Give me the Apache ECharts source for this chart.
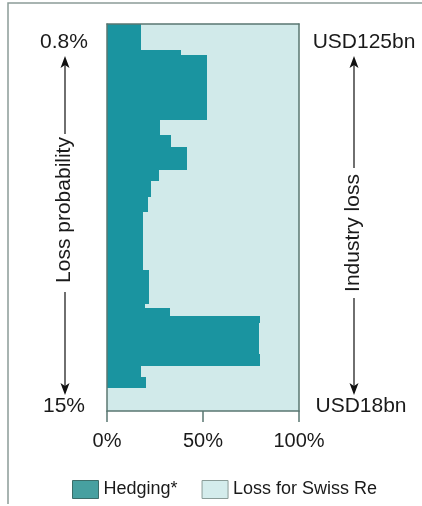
<!DOCTYPE html>
<html>
<head>
<meta charset="utf-8">
<script src="https://cdn.jsdelivr.net/npm/echarts@6/dist/echarts.min.js"></script>
<style>
  html, body { margin: 0; padding: 0; background: #fff; }
  #drew { width: 422px; height: 506px; }
</style>
</head>
<body>
<div id="drew"></div>
<script>
   // band edges along the loss range, 0 = top (0.8% / USD125bn), 100 = bottom (15% / USD18bn)
   var bandEdges = [0, 6.8, 7.9, 24.7, 28.6, 31.7, 37.7, 40.5, 44.6, 48.5, 63.5,
                    72.3, 73.4, 75.4, 77.2, 85.3, 88.4, 91.2, 94.1, 100];
   // hedging share (%) in each band
   var hedging = [17.7, 38.5, 52.1, 27.6, 33.3, 41.7, 27.1, 22.9, 21.4, 18.7,
                  21.9, 19.8, 32.8, 79.7, 79.2, 79.7, 17.7, 20.3, 0];
   var xTicks = [0, 50, 100];
   var seriesNames = ['Hedging*', 'Loss for Swiss Re'];

   var hedgeData = [], lossData = [];
   for (var i = 0; i < hedging.length; i++) {
       hedgeData.push([bandEdges[i], bandEdges[i + 1], 0, hedging[i]]);
       lossData.push([bandEdges[i], bandEdges[i + 1], hedging[i], 100]);
   }

   function renderBand(params, api) {
       var p0 = api.coord([api.value(2), api.value(0)]);
       var p1 = api.coord([api.value(3), api.value(1)]);
       var x0 = Math.round(p0[0]), y0 = Math.round(p0[1]);
       var x1 = Math.round(p1[0]), y1 = Math.round(p1[1]);
       return {
           type: 'rect',
           shape: { x: x0, y: y0, width: x1 - x0, height: y1 - y0 },
           style: api.style({ stroke: null, lineWidth: 0 })
       };
   }

   var font = 'Liberation Sans, Arial, sans-serif';
   var lineCol = '#5a7771';

   var myChart = echarts.init(document.getElementById('drew'));
   var option = {
       backgroundColor: '#fff',
       animation: false,
       textStyle: { fontFamily: font },
       grid: { left: 107, right: 123, top: 24, height: 387 },
       xAxis: [{
           type: 'value', position: 'bottom', min: 0, max: 100, interval: 50, z: 5,
           axisLine: { show: true, onZero: false, lineStyle: { color: lineCol, width: 1.5 } },
           axisTick: { show: true, length: 11, lineStyle: { color: lineCol, width: 1.5 } },
           axisLabel: {
               margin: 20, fontSize: 20, color: '#1a1a1a',
               formatter: function (v) { return xTicks.indexOf(v) >= 0 ? v + '%' : ''; }
           },
           splitLine: { show: false }
       }, {
           type: 'value', position: 'top', min: 0, max: 100, z: 5,
           axisLine: { show: true, onZero: false, lineStyle: { color: lineCol, width: 1.5 } },
           axisTick: { show: false }, axisLabel: { show: false }, splitLine: { show: false }
       }],
       yAxis: [{
           type: 'value', position: 'left', inverse: true, min: 0, max: 100, z: 5,
           axisLine: { show: true, onZero: false, lineStyle: { color: lineCol, width: 1.5 } },
           axisTick: { show: false }, axisLabel: { show: false }, splitLine: { show: false }
       }, {
           type: 'value', position: 'right', inverse: true, min: 0, max: 100, z: 5,
           axisLine: { show: true, onZero: false, lineStyle: { color: lineCol, width: 1.5 } },
           axisTick: { show: false }, axisLabel: { show: false }, splitLine: { show: false }
       }],
       legend: {
           left: 67, top: 475, icon: 'rect', itemWidth: 26, itemHeight: 18, itemGap: 24,
           textStyle: { fontSize: 18, color: '#1a1a1a', fontFamily: font },
           data: [
               { name: seriesNames[0], itemStyle: { color: '#47a0a0', borderColor: '#3b6d69', borderWidth: 1 } },
               { name: seriesNames[1], itemStyle: { color: '#d4ecec', borderColor: '#8a9c98', borderWidth: 1 } }
           ]
       },
       series: [{
           name: seriesNames[0], type: 'custom', renderItem: renderBand,
           itemStyle: { color: '#1a94a0' }, encode: { x: [2, 3], y: [0, 1] },
           data: hedgeData
       }, {
           name: seriesNames[1], type: 'custom', renderItem: renderBand,
           itemStyle: { color: '#d1eaea' }, encode: { x: [2, 3], y: [0, 1] },
           data: lossData
       }],
       graphic: [
           // outer frame
           { type: 'polyline', shape: { points: [[8, 504], [8, 3], [422, 3]] }, style: { stroke: '#8c9c98', lineWidth: 1.5, fill: null } },
           // left annotation
           { type: 'text', x: 64, y: 42, style: { text: '0.8%', font: '21px ' + font, fill: '#1a1a1a', align: 'center', verticalAlign: 'middle' } },
           { type: 'text', x: 64, y: 406, style: { text: '15%', font: '21px ' + font, fill: '#1a1a1a', align: 'center', verticalAlign: 'middle' } },
           { type: 'line', shape: { x1: 65, y1: 60, x2: 65, y2: 134 }, style: { stroke: '#222', lineWidth: 1.3 } },
           { type: 'line', shape: { x1: 65, y1: 292, x2: 65, y2: 390 }, style: { stroke: '#222', lineWidth: 1.3 } },
           { type: 'polygon', shape: { points: [[65, 56], [60.5, 68], [65, 65], [69.5, 68]] }, style: { fill: '#111' } },
           { type: 'polygon', shape: { points: [[65, 395], [60.5, 383], [65, 386], [69.5, 383]] }, style: { fill: '#111' } },
           { type: 'text', x: 64, y: 210, rotation: Math.PI / 2, style: { text: 'Loss probability', font: '21px ' + font, fill: '#1a1a1a', align: 'center', verticalAlign: 'middle' } },
           // right annotation
           { type: 'text', x: 364, y: 42, style: { text: 'USD125bn', font: '21px ' + font, fill: '#1a1a1a', align: 'center', verticalAlign: 'middle' } },
           { type: 'text', x: 361, y: 406, style: { text: 'USD18bn', font: '21px ' + font, fill: '#1a1a1a', align: 'center', verticalAlign: 'middle' } },
           { type: 'line', shape: { x1: 354, y1: 60, x2: 354, y2: 168 }, style: { stroke: '#222', lineWidth: 1.3 } },
           { type: 'line', shape: { x1: 354, y1: 298, x2: 354, y2: 390 }, style: { stroke: '#222', lineWidth: 1.3 } },
           { type: 'polygon', shape: { points: [[354, 56], [349.5, 68], [354, 65], [358.5, 68]] }, style: { fill: '#111' } },
           { type: 'polygon', shape: { points: [[354, 395], [349.5, 383], [354, 386], [358.5, 383]] }, style: { fill: '#111' } },
           { type: 'text', x: 353, y: 233, rotation: Math.PI / 2, style: { text: 'Industry loss', font: '21px ' + font, fill: '#1a1a1a', align: 'center', verticalAlign: 'middle' } }
       ]
   };
   myChart.setOption(option);
   window.addEventListener('resize', function () {
       myChart.resize();
   });
</script>
</body>
</html>
